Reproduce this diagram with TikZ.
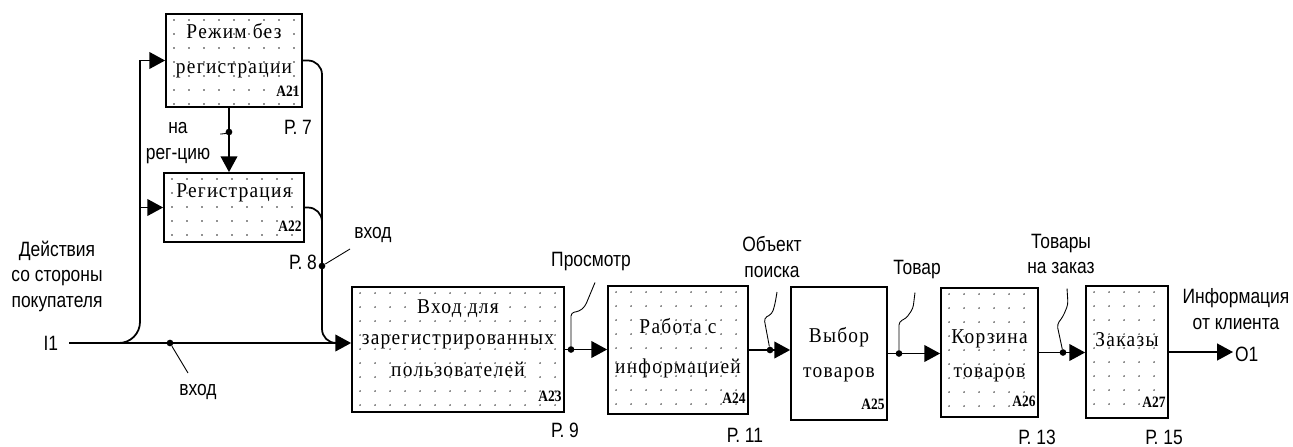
\documentclass[tikz,border=0pt]{standalone}
\usepackage{fontspec}
\setmainfont{Liberation Serif}
\newfontfamily\boxfont[FakeStretch=0.92, LetterSpace=6]{Liberation Serif}
\newfontfamily\numfont[FakeStretch=0.85]{Liberation Serif}
\newfontfamily\lblfont[FakeStretch=0.84]{Liberation Sans}
\usetikzlibrary{arrows.meta, positioning}

\begin{document}
\begin{tikzpicture}[
  x=0.02cm, y=-0.02cm,
  func/.style={rectangle, draw, line width=1pt, inner sep=0pt},
  dotfill/.style={path picture={
      \foreach \col in {0,...,20}
        \foreach \row in {0,...,10}
          \fill[black!85] ([shift={(8+15*\col,6+14*\row)}]path picture bounding box.north west) circle[radius=0.45pt];
    }},
  boxtext/.style={font=\boxfont\fontsize{12}{#1}\selectfont, align=center, inner sep=0pt},
  boxtext/.default=18,
  anum/.style={font=\numfont\fontsize{9}{10}\selectfont\bfseries, anchor=south east, inner sep=0pt},
  lbl/.style={font=\lblfont\fontsize{11.8}{14.5}\selectfont, align=center, inner sep=1pt},
  junction/.style={circle, fill, inner sep=0pt, minimum size=3.8pt},
  flow/.style={line width=1pt},
  arrow/.style={flow, -{Triangle[length=9pt, width=9.5pt]}},
  squiggle/.style={line width=0.5pt, rounded corners=2pt}
]
  \path[use as bounding box, fill=white] (0,0) rectangle (1293,446);

  % function boxes
  \node[func, dotfill, minimum width=2.72cm, minimum height=1.86cm] (a21) at (234,60.5) {};
  \node[func, dotfill, minimum width=2.80cm, minimum height=1.38cm] (a22) at (234,207.5) {};
  \node[func, dotfill, minimum width=4.24cm, minimum height=2.50cm] (a23) at (458,349.5) {};
  \node[func, dotfill, minimum width=2.80cm, minimum height=2.56cm] (a24) at (678,350) {};
  \node[func, minimum width=1.92cm, minimum height=2.66cm] (a25) at (839,353.5) {};
  \node[func, dotfill, minimum width=1.94cm, minimum height=2.58cm] (a26) at (989.5,352.5) {};
  \node[func, dotfill, minimum width=1.64cm, minimum height=2.64cm] (a27) at (1127,352) {};

  \node[boxtext=20] (t21) at (234,51) {Режим без\\регистрации};
  \node[boxtext] (t22) at (234,193) {Регистрация};
  \node[boxtext] (t23) at (458,338) {Вход для\\зарегистрированных\\пользователей};
  \node[boxtext=22.5] (t24) at (678,348) {Работа с\\информацией};
  \node[boxtext=20] (t25) at (839,355) {Выбор\\товаров};
  \node[boxtext=19] (t26) at (989.5,356) {Корзина\\товаров};
  \node[boxtext] (t27) at (1127,340) {Заказы};
  \foreach \b in {21,...,27}
    \node[anum] (n\b) at ([shift={(-3,-11)}]a\b.south east) {A\b};

  % arrow labels
  \node[lbl] (buyer) at (57,276) {Действия\\со стороны\\покупателя};
  \node[lbl, anchor=east, inner xsep=6pt] (i1) at (69,343) {I1};
  \node[lbl] (toreg) at (178,143) {на\\рег-цию};
  \node[lbl] (p7) at (298,127) {Р. 7};
  \node[lbl] (p8) at (303,262) {Р. 8};
  \node[lbl] (entry) at (373,235) {вход};
  \node[lbl] (entrymain) at (198,392) {вход};
  \node[lbl] (view) at (591,262) {Просмотр};
  \node[lbl] (p9) at (565,430) {Р. 9};
  \node[lbl] (search) at (772,257) {Объект\\поиска};
  \node[lbl] (p11) at (745,435) {Р. 11};
  \node[lbl] (goods) at (917,270) {Товар};
  \node[lbl] (ordered) at (1061,254) {Товары\\на заказ};
  \node[lbl] (p13) at (1037,437) {Р. 13};
  \node[lbl] (clientinfo) at (1236,309) {Информация\\от клиента};
  \node[lbl] (p15) at (1164,437) {Р. 15};
  \node[lbl, anchor=west] (o1) at (1233,354) {O1};

  % branch points
  \node[junction] (jreg) at (229,132) {};
  \node[junction] (jentry) at (322,266) {};
  \node[junction] (jmain) at (170,343) {};
  \node[junction] (j23) at (571,0 |- a23.east) {};
  \node[junction] (j24) at (770,0 |- a24.east) {};
  \node[junction] (j25) at (899,0 |- a25.east) {};
  \node[junction] (j26) at (1063,0 |- a26.east) {};

  % input I1 and its branches up to A21 and A22
  \coordinate (split) at (116,343);
  \coordinate (rise) at (140,150);
  \draw[arrow] (i1.east) -- (i1.east -| a23.west);
  \draw[flow, rounded corners=12] (split) -| (rise);
  \draw[arrow] (rise) |- (a21.west);
  \draw[arrow] (rise |- a22.west) -- (a22.west);

  % outputs of A21 and A22 fed back into A23
  \coordinate (drop) at (322,300);
  \coordinate (merge) at (338,343);
  \draw[flow, rounded corners=8] (a21.east) -| (drop);
  \draw[flow, rounded corners=8] (a22.east) -| (drop);
  \draw[flow, rounded corners=8] (drop) |- (merge);
  \draw[arrow] (jreg |- a21.south) -- (jreg |- a22.north);

  % main chain
  \draw[arrow] (a23.east) -- (a23.east -| a24.west);
  \draw[arrow] (a24.east) -- (a24.east -| a25.west);
  \draw[arrow] (a25.east) -- (a25.east -| a26.west);
  \draw[arrow] (a26.east) -- (a26.east -| a27.west);
  \draw[arrow] (a27.east) -- (a27.east -| o1.west);

  % squiggles to the labels
  \draw[squiggle] (jreg) -- ++(-4,2) -- ++(-5,0);
  \draw[squiggle] (jentry) -- ++(28,-17);
  \draw[squiggle] (jmain) -- ++(18,30);
  \draw[squiggle] (j23) -- ++(0,-37) -- ++(8,-1) -- ++(6,-5) -- ++(10,-24);
  \draw[squiggle] (j24) -- ++(-6,-32) -- ++(8,-4) -- ++(3,-10) -- ++(2,-12);
  \draw[squiggle] (j25) -- ++(0,-32) -- ++(7,-3) -- ++(7,-10) -- ++(2,-16);
  \draw[squiggle] (j26) -- ++(-6,-28) -- ++(6,-8) -- ++(5,-12) -- ++(-1,-16);
\end{tikzpicture}
\end{document}
